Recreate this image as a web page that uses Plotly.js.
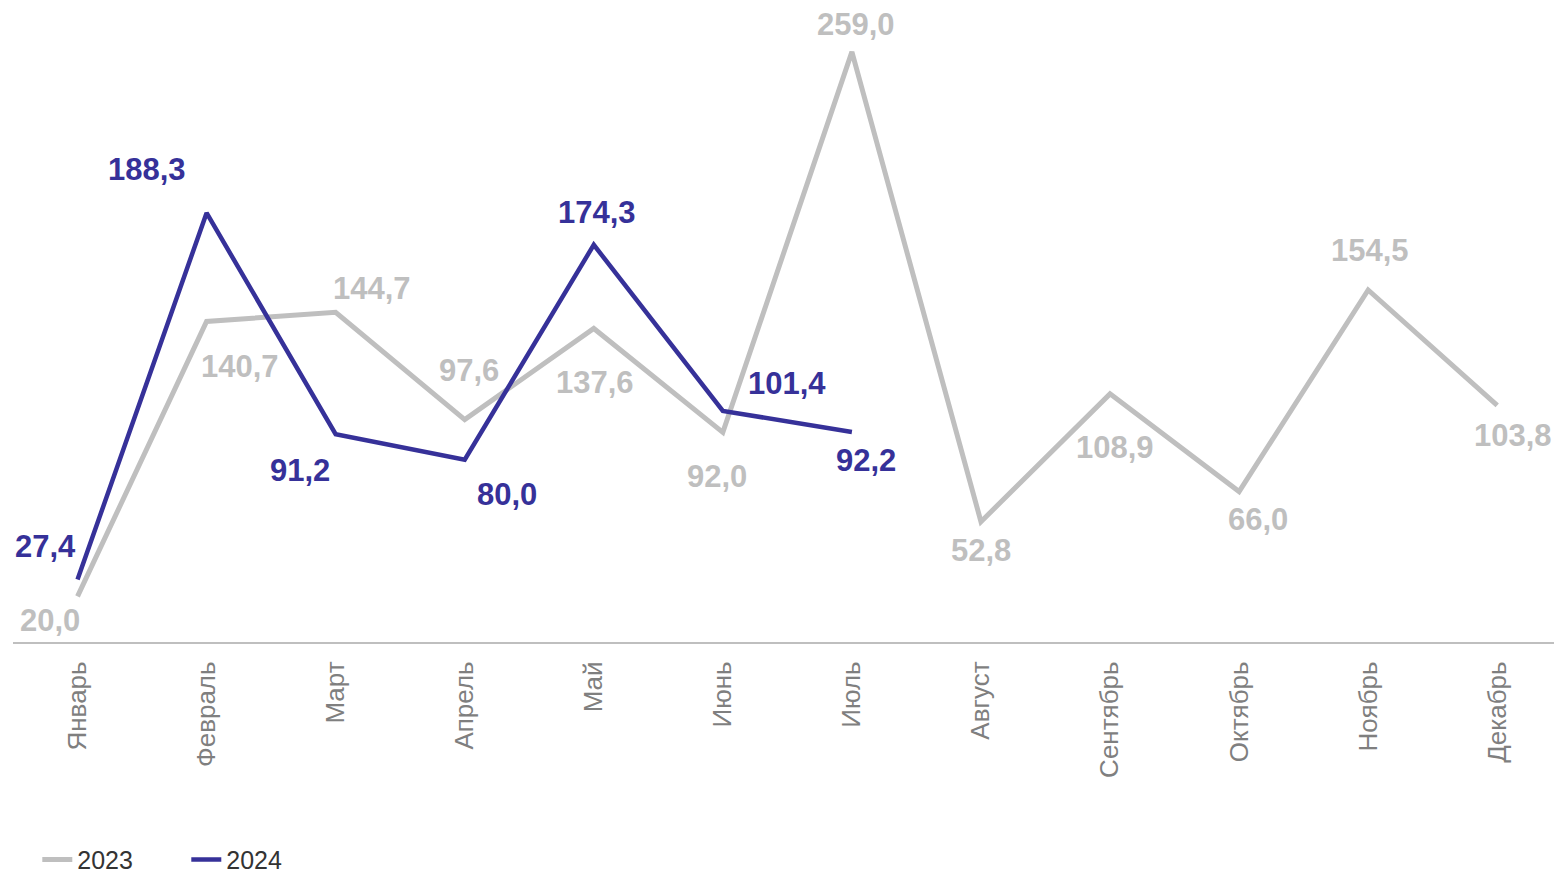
<!DOCTYPE html>
<html>
<head>
<meta charset="utf-8">
<script src="https://cdn.plot.ly/plotly-3.0.1.min.js"></script>
<style>html,body{margin:0;padding:0;background:#fff;}#chart{width:1554px;height:879px;}</style>
</head>
<body>
<div id="chart"></div>
<script>
// Data
const months = ["Январь","Февраль","Март","Апрель","Май","Июнь","Июль","Август","Сентябрь","Октябрь","Ноябрь","Декабрь"];
const values2023 = [20.0,140.7,144.7,97.6,137.6,92.0,259.0,52.8,108.9,66.0,154.5,103.8];
const values2024 = [27.4,188.3,91.2,80.0,174.3,101.4,92.2];
const seriesNames = ["2023","2024"];

// Styles / label placement (pixel offsets)
const gray = "#bfbfbf";
const blue = "#363199";
const off2023 = [[-28,24],[33,45],[36,-24],[4,-49],[1,54],[-6,44],[4,-27],[0,29],[5,54],[19,28],[2,-39],[16,30]];
const off2024 = [[-32,-33],[-60,-43],[-36,36],[42,35],[3,-32],[64,-27],[14,29]];
const labelFont = "Liberation Sans, Arial, sans-serif";

function fmt(v){ return "<b>" + v.toFixed(1).replace(".", ",") + "</b>"; }

const traces = [
  {x: months, y: values2023, name: seriesNames[0], type: "scatter", mode: "lines",
   line: {color: gray, width: 5}, hoverinfo: "skip"},
  {x: months.slice(0, values2024.length), y: values2024, name: seriesNames[1], type: "scatter", mode: "lines",
   line: {color: blue, width: 4.5}, hoverinfo: "skip"}
];

const annotations = [];
values2023.forEach((v,i)=>annotations.push({x: months[i], y: v, xref:"x", yref:"y", text: fmt(v), showarrow:false,
  xshift: off2023[i][0], yshift: -off2023[i][1], font:{family:labelFont, size:31, color:gray}}));
values2024.forEach((v,i)=>annotations.push({x: months[i], y: v, xref:"x", yref:"y", text: fmt(v), showarrow:false,
  xshift: off2024[i][0], yshift: -off2024[i][1], font:{family:labelFont, size:31, color:blue}}));

const layout = {
  width: 1554, height: 879,
  margin: {l: 13, r: 0, t: 4, b: 237},
  paper_bgcolor: "#fff", plot_bgcolor: "#fff",
  showlegend: true,
  legend: {orientation: "h", xref: "container", yref: "container", x: 0.024, y: 0.022, xanchor: "left", yanchor: "middle",
    font: {family: labelFont, size: 25, color: "#333333"}, entrywidth: 104, entrywidthmode: "pixels",
    bgcolor: "rgba(0,0,0,0)", borderwidth: 0, tracegroupgap: 0},
  xaxis: {type: "category", range: [-0.5, 11.44], showgrid: false, zeroline: false, showline: true,
    linecolor: "#bfbfbf", linewidth: 2, ticks: "", tickangle: -90, ticklabelstandoff: 7,
    tickfont: {family: labelFont, size: 26, color: "#7f7f7f"}},
  yaxis: {range: [0, 280], visible: false, showgrid: false, zeroline: false, fixedrange: true},
  annotations: annotations
};

Plotly.newPlot("chart", traces, layout, {displayModeBar: false, staticPlot: true});
</script>
</body>
</html>
